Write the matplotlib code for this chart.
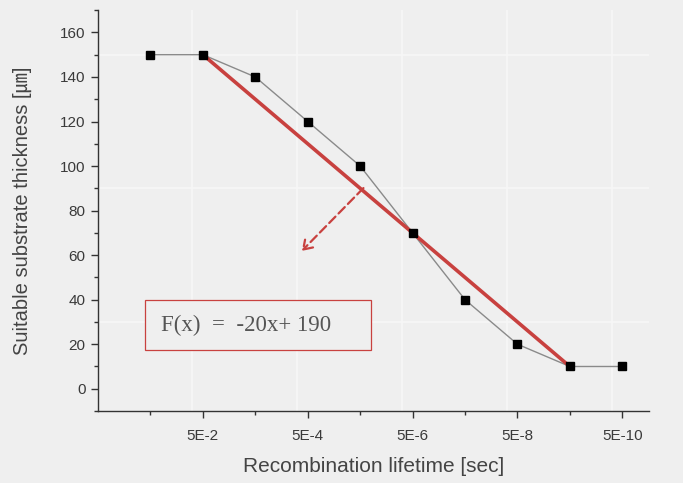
import matplotlib.pyplot as plt
from matplotlib.patches import Rectangle, FancyArrowPatch

plt.rcParams['font.family'] = ['Liberation Sans', 'Noto Sans CJK JP', 'DejaVu Sans']

# exponent of the lifetime (5E-n sec)
x = [1, 2, 3, 4, 5, 6, 7, 8, 9, 10]
thickness = [150, 150, 140, 120, 100, 70, 40, 20, 10, 10]

tick_pos = [2, 4, 6, 8, 10]
tick_labels = ['5E-2', '5E-4', '5E-6', '5E-8', '5E-10']

# linear fit F(x) = -20x + 190
fit_x = [2, 9]
fit_y = [-20 * v + 190 for v in fit_x]

bg = '#efefef'
red = '#c8413f'

fig = plt.figure(figsize=(6.83, 4.83), dpi=100, facecolor=bg)
ax = fig.add_axes([0.1435, 0.149, 0.806, 0.83])
ax.set_facecolor(bg)

for v in tick_pos:
    ax.axvline(v - 0.2, color='#f7f7f7', lw=1.2, zorder=0)
for v in [30, 90, 150]:
    ax.axhline(v, color='#f7f7f7', lw=1.2, zorder=0)

ax.plot(x, thickness, color='#8a8a8a', lw=1.0, zorder=2)
ax.plot(x, thickness, 's', color='black', ms=6, zorder=4)
ax.plot(fit_x, fit_y, color=red, lw=2.6, zorder=3, solid_capstyle='round')

arrow = FancyArrowPatch((5.1, 91), (3.85, 61), arrowstyle='->,head_length=6,head_width=4',
                        color=red, lw=1.6, linestyle=(0, (4, 2)), zorder=3)
ax.add_patch(arrow)

box = Rectangle((0.9, 17.5), 4.3, 22.5, facecolor=bg, edgecolor=red, lw=0.9, zorder=3)
ax.add_patch(box)
ax.text(1.2, 28.5, 'F(x)  =  -20x+ 190', family='Liberation Serif', fontsize=16.5,
        color='#555555', va='center', ha='left', zorder=4)

ax.set_xlim(0, 10.5)
ax.set_ylim(-10, 170)
ax.set_xticks(tick_pos)
ax.set_xticklabels(tick_labels)
ax.set_xticks([1, 3, 5, 7, 9], minor=True)
ax.set_yticks(range(0, 161, 20))
ax.set_yticks(range(-10, 171, 10), minor=True)

for s in ['top', 'right']:
    ax.spines[s].set_visible(False)
for s in ['left', 'bottom']:
    ax.spines[s].set_color('#333333')
    ax.spines[s].set_linewidth(1.0)

ax.tick_params(axis='both', which='major', length=5, width=1, color='#333333',
               labelsize=11, labelcolor='#3a3a3a')
ax.tick_params(axis='both', which='minor', length=3, width=1, color='#333333')
ax.tick_params(axis='x', pad=8)
ax.tick_params(axis='y', pad=4)

ax.set_xlabel('Recombination lifetime [sec]', fontsize=15, color='#444444', labelpad=10)
ax.set_ylabel('Suitable substrate thickness [㎛]', fontsize=14.5, color='#444444', labelpad=20)

fig.savefig('out.png', dpi=100, facecolor=bg)
